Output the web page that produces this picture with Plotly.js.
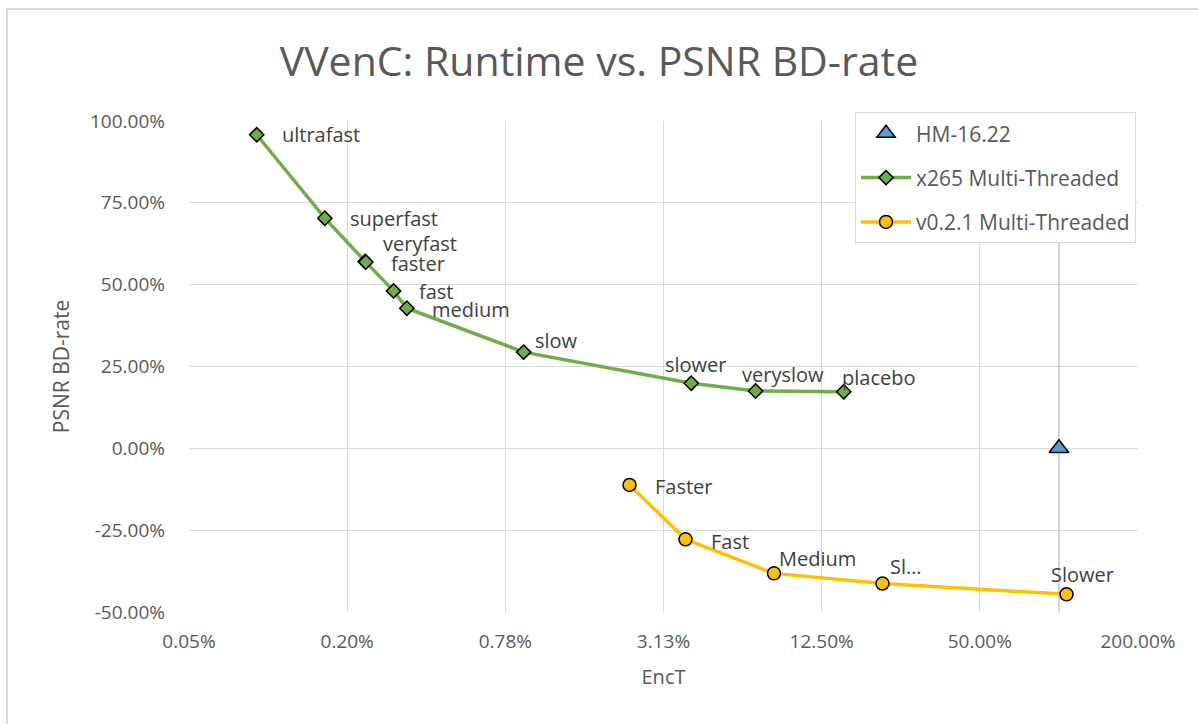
<!DOCTYPE html>
<html>
<head>
<meta charset="utf-8">
<script src="https://cdn.plot.ly/plotly-3.0.1.min.js"></script>
<style>
  html, body { margin: 0; padding: 0; background: #ffffff; }
  #chart { width: 1198px; height: 724px; }
</style>
</head>
<body>
<div id="chart"></div>
<script>
// ---- data ----
const x265Labels = ["ultrafast", "superfast", "veryfast", "faster", "fast", "medium", "slow", "slower", "veryslow", "placebo"];
const x265EncT   = [0.000884, 0.001606, 0.002287, 0.002300, 0.002933, 0.003297, 0.009174, 0.03985, 0.07006, 0.1517];
const x265BD     = [0.958, 0.703, 0.571, 0.569, 0.481, 0.428, 0.294, 0.199, 0.175, 0.173];

const vvencLabels = ["Faster", "Fast", "Medium", "Sl\u2026", "Slower"];
const vvencEncT   = [0.0232, 0.0379, 0.0823, 0.213, 1.069];
const vvencBD     = [-0.112, -0.278, -0.382, -0.413, -0.446];

const hmLabel = "HM-16.22";
const hmEncT  = [1.0];
const hmBD    = [0.0];

const xTickVals  = [0.00048828125, 0.001953125, 0.0078125, 0.03125, 0.125, 0.5, 2];
const xTickText  = ["0.05%", "0.20%", "0.78%", "3.13%", "12.50%", "50.00%", "200.00%"];
const yTickVals  = [-0.5, -0.25, 0, 0.25, 0.5, 0.75, 1.0];
const yTickText  = ["-50.00%", "-25.00%", "0.00%", "25.00%", "50.00%", "75.00%", "100.00%"];
const yRange     = [-0.5, 1.0];

// ---- label placement (styling only) ----
const x265LabelOffsets = [
  [23, 0], [23, 0], [16, 18], [23, -1], [23, -1], [23, -1], [9, 12], [-28, 19], [-16, 17], [-4, 14]
];
const vvencLabelOffsets = [
  [23, -2], [23, -2], [3, 15], [6, 17], [-18, 20]
];

const textColor = "#404040";
const axisColor = "#595959";
const gridColor = "#d9d9d9";
const fontFam = "'Open Sans', 'Noto Sans', sans-serif";

const traces = [
  {
    x: [hmEncT[0], hmEncT[0]], y: yRange,
    mode: "lines", line: {color: "#c6c6c6", width: 1.5},
    showlegend: false, hoverinfo: "skip"
  },
  {
    name: hmLabel, x: hmEncT, y: hmBD, mode: "markers",
    marker: {symbol: "triangle-up", size: 17, color: "#5B9BD5", line: {color: "#000000", width: 1.5}},
    legendgroup: "a"
  },
  {
    name: "x265 Multi-Threaded", x: x265EncT, y: x265BD, mode: "lines+markers",
    line: {color: "#70AD47", width: 3.5},
    marker: {symbol: "diamond", size: 11, color: "#70AD47", line: {color: "#000000", width: 1.5}},
    legendgroup: "b"
  },
  {
    name: "v0.2.1 Multi-Threaded", x: vvencEncT, y: vvencBD, mode: "lines+markers",
    line: {color: "#FFC000", width: 3.5},
    marker: {symbol: "circle", size: 13, color: "#FFC000", line: {color: "#000000", width: 1.5}},
    legendgroup: "c"
  }
];

const annotations = [];
function addLabels(labels, xs, ys, offs) {
  labels.forEach((t, i) => {
    annotations.push({
      x: Math.log10(xs[i]), y: ys[i], xref: "x", yref: "y",
      text: t, showarrow: false, xanchor: "left", yanchor: "middle",
      xshift: offs[i][0], yshift: offs[i][1],
      font: {family: fontFam, size: 20, color: textColor}
    });
  });
}
addLabels(x265Labels, x265EncT, x265BD, x265LabelOffsets);
addLabels(vvencLabels, vvencEncT, vvencBD, vvencLabelOffsets);

const layout = {
  width: 1198, height: 724,
  margin: {l: 189, r: 60, t: 121, b: 112},
  paper_bgcolor: "#ffffff", plot_bgcolor: "#ffffff",
  font: {family: fontFam, color: axisColor, size: 19},
  title: {
    text: "VVenC: Runtime vs. PSNR BD-rate",
    font: {family: fontFam, size: 41, color: axisColor},
    x: 0.5, xanchor: "center", y: 0.915, yanchor: "middle"
  },
  xaxis: {
    type: "log",
    range: [Math.log10(xTickVals[0]), Math.log10(xTickVals[xTickVals.length - 1])],
    tickmode: "array", tickvals: xTickVals, ticktext: xTickText,
    showgrid: true, gridcolor: gridColor, gridwidth: 1,
    zeroline: false, showline: false, ticks: "",
    ticklabelstandoff: 16,
    tickfont: {family: fontFam, size: 19, color: axisColor},
    title: {text: "EncT", font: {family: fontFam, size: 20, color: axisColor}, standoff: 16},
    automargin: false
  },
  yaxis: {
    range: yRange, tickmode: "array", tickvals: yTickVals, ticktext: yTickText,
    showgrid: true, gridcolor: gridColor, gridwidth: 1,
    zeroline: false, showline: false, ticks: "",
    ticklabelstandoff: 23,
    tickfont: {family: fontFam, size: 19, color: axisColor},
    title: {text: "PSNR BD-rate", font: {family: fontFam, size: 21, color: axisColor}, standoff: 14},
    automargin: false
  },
  legend: {
    x: 0.7018, y: 1.018, xanchor: "left", yanchor: "top",
    bgcolor: "#ffffff", bordercolor: gridColor, borderwidth: 1,
    font: {family: fontFam, size: 21, color: axisColor},
    traceorder: "grouped", tracegroupgap: 14, itemwidth: 50
  },
  annotations: annotations,
  shapes: [{
    type: "rect", xref: "paper", yref: "paper",
    x0: (7 - 189) / 949, x1: 1.2, y0: -0.4, y1: (612 - 9) / 491,
    line: {color: gridColor, width: 2}, fillcolor: "rgba(0,0,0,0)", layer: "below"
  }],
  showlegend: true,
  hovermode: false
};

Plotly.newPlot("chart", traces, layout, {displayModeBar: false, staticPlot: true});
</script>
</body>
</html>
